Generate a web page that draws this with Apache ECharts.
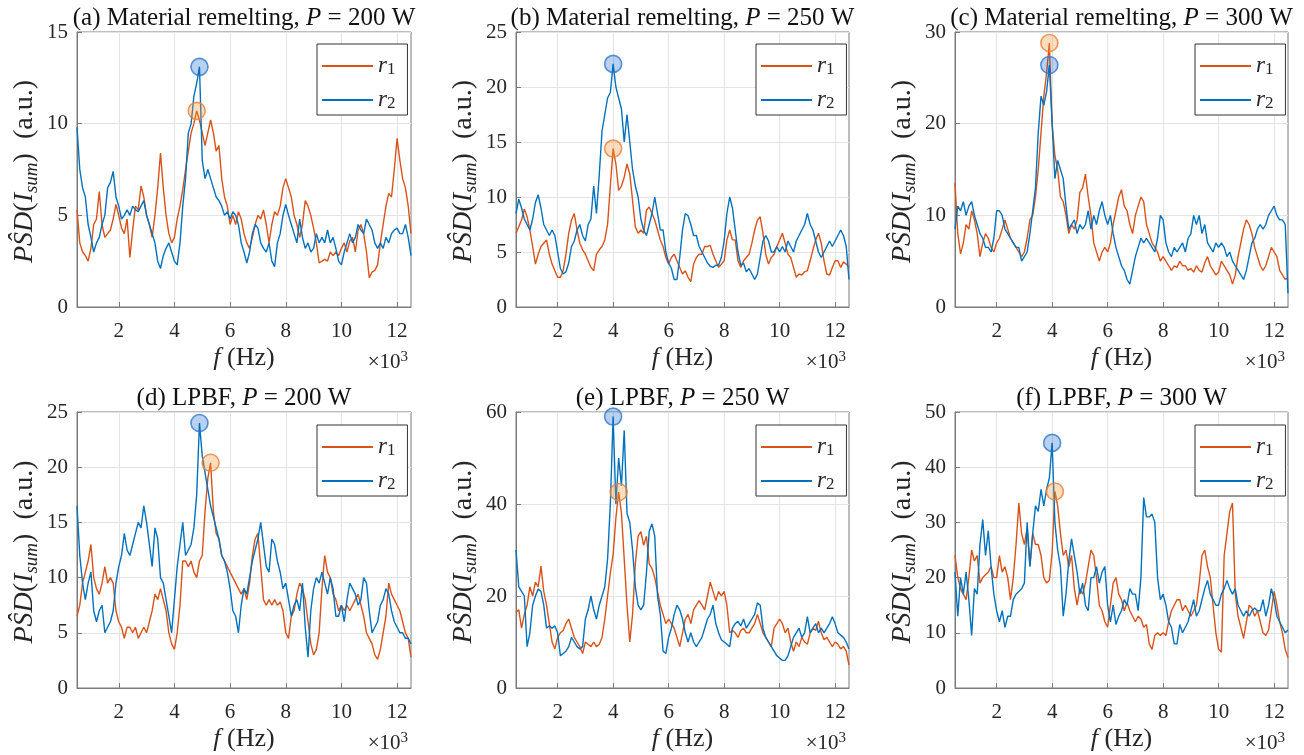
<!DOCTYPE html>
<html><head><meta charset="utf-8">
<script src="https://cdn.jsdelivr.net/npm/echarts@6/dist/echarts.min.js"></script>
<style>html,body{margin:0;padding:0;background:#fff}#c{width:1304px;height:755px}</style>
</head><body><div id="c"></div>
<script>
// ---------------- DATA ----------------
const freq = [
0.5,0.6,0.7,0.8,0.9,1.0,1.1,1.2,1.3,1.4,
1.5,1.6,1.7,1.8,1.9,2.0,2.1,2.2,2.3,2.4,
2.5,2.6,2.7,2.8,2.9,3.0,3.1,3.2,3.3,3.4,
3.5,3.6,3.7,3.8,3.9,4.0,4.1,4.2,4.3,4.4,
4.5,4.6,4.7,4.8,4.9,5.0,5.1,5.2,5.3,5.4,
5.5,5.6,5.7,5.8,5.9,6.0,6.1,6.2,6.3,6.4,
6.5,6.6,6.7,6.8,6.9,7.0,7.1,7.2,7.3,7.4,
7.5,7.6,7.7,7.8,7.9,8.0,8.1,8.2,8.3,8.4,
8.5,8.6,8.7,8.8,8.9,9.0,9.1,9.2,9.3,9.4,
9.5,9.6,9.7,9.8,9.9,10.0,10.1,10.2,10.3,10.4,
10.5,10.6,10.7,10.8,10.9,11.0,11.1,11.2,11.3,11.4,
11.5,11.6,11.7,11.8,11.9,12.0,12.1,12.2,12.3,12.4,
12.5];
const xTicks = [2, 4, 6, 8, 10, 12];

// (a) Material remelting, P = 200 W
const r1_a = [
5.3,3.5,3.0,2.8,2.5,3.2,4.5,4.8,6.3,4.5,
3.8,4.0,4.2,4.8,5.6,5.0,4.3,4.0,4.8,2.7,
4.2,5.5,5.3,6.6,6.0,5.0,4.5,3.8,5.0,6.5,
8.4,6.5,5.0,4.0,3.5,3.8,4.8,5.5,6.4,7.5,
8.5,9.5,10.0,10.7,10.2,9.5,8.8,9.5,10.2,9.5,
8.5,8.8,7.0,6.0,5.5,4.5,5.0,4.5,5.2,4.8,
4.0,3.5,3.2,3.8,4.5,5.0,4.8,5.3,4.5,3.5,
4.5,5.2,5.0,5.5,6.5,7.0,6.5,6.0,5.0,4.5,
3.8,4.5,5.8,5.5,5.0,4.3,3.5,2.4,2.5,2.6,
2.5,3.0,2.8,3.0,2.8,3.2,3.5,3.0,3.6,3.8,
3.0,4.2,4.5,4.0,3.0,1.6,1.9,2.0,2.3,3.5,
4.5,5.5,6.2,6.0,7.5,9.2,8.0,7.0,6.5,5.5,
4.0];
const r2_a = [
9.8,7.5,6.5,6.0,4.5,3.8,3.0,3.5,3.8,4.5,
5.0,6.5,6.8,7.4,6.0,5.5,4.8,5.0,5.3,5.0,
5.5,5.3,5.2,5.5,5.8,5.0,4.5,4.0,3.5,2.5,
2.1,2.8,3.2,3.5,3.0,2.5,2.3,3.5,5.5,7.0,
9.5,10.0,11.5,12.2,13.1,8.0,7.0,7.5,7.0,6.5,
6.0,5.8,5.5,5.0,5.2,4.8,5.2,5.0,4.5,3.5,
3.0,2.4,3.0,4.0,4.5,4.3,3.5,3.2,3.0,3.5,
2.5,2.2,3.5,4.0,5.0,5.6,5.0,4.5,4.0,3.5,
4.8,3.8,3.2,3.5,3.0,3.2,4.0,3.5,3.8,3.5,
4.2,3.5,3.8,3.2,2.5,2.3,3.0,3.5,4.0,3.5,
3.8,4.5,4.2,4.0,4.8,4.5,4.2,3.5,3.2,3.5,
3.2,3.8,3.5,4.0,4.2,4.3,4.0,4.0,4.5,3.8,
2.8];

// (b) Material remelting, P = 250 W
const r1_b = [
6.7,7.3,7.9,8.9,8.2,7.0,5.5,3.9,4.8,5.5,
5.8,6.1,4.8,3.9,3.3,2.7,2.7,3.3,4.8,6.7,
7.9,8.5,7.0,5.8,5.2,4.8,4.2,3.6,3.3,4.8,
5.2,5.5,6.1,7.5,11.0,14.4,13.0,10.6,11.0,11.8,
13.0,12.1,9.7,7.3,6.7,7.0,6.7,8.8,9.1,8.5,
7.9,7.0,6.1,5.5,4.5,3.9,4.5,4.8,4.2,3.6,
3.0,3.3,2.7,2.3,3.9,4.5,4.8,4.8,5.5,5.5,
5.6,4.8,4.2,3.6,3.9,4.2,6.1,7.0,6.1,6.1,
4.2,3.6,4.2,4.5,4.8,5.8,7.0,7.9,8.2,6.7,
4.8,3.9,4.5,4.8,5.5,6.1,6.7,5.8,4.8,4.5,
3.6,2.7,3.0,2.9,3.2,3.3,4.2,5.2,6.1,6.7,
5.8,4.2,3.0,2.9,3.6,4.2,4.2,3.6,4.1,3.9,
3.6];
const r2_b = [
8.5,9.8,9.0,8.0,7.5,7.0,8.0,9.5,10.2,9.0,
7.5,7.0,6.5,7.0,6.5,5.0,3.5,3.0,3.2,4.0,
5.5,6.0,7.0,7.5,6.5,6.0,7.5,8.0,11.0,8.5,
12.0,16.0,17.5,19.0,19.5,22.1,20.0,19.0,18.0,15.0,
17.5,15.0,12.5,11.0,10.0,8.0,7.0,6.5,7.5,8.5,
10.0,8.5,7.0,7.0,5.0,4.0,3.5,2.5,2.5,4.5,
7.0,8.5,8.3,7.5,6.5,6.5,5.5,5.0,4.5,4.0,
3.7,3.6,3.8,3.8,4.5,6.0,8.5,10.0,9.0,7.0,
5.0,3.8,4.0,3.2,3.5,3.0,2.5,3.0,4.5,6.0,
6.5,6.0,5.0,5.0,5.5,5.0,5.5,5.0,6.0,5.5,
5.0,6.0,6.5,7.0,7.5,8.5,7.5,7.0,6.0,5.0,
4.5,5.0,5.5,6.0,5.5,6.0,6.5,7.0,6.5,5.5,
2.5];

// (c) Material remelting, P = 300 W
const r1_c = [
13.5,8.0,5.8,7.0,9.0,8.5,10.5,9.5,8.0,5.5,
7.0,8.0,7.5,6.5,6.0,7.0,7.5,8.5,9.5,8.5,
7.5,7.0,6.5,6.0,5.5,6.0,7.5,9.5,10.0,12.0,
15.0,19.0,23.0,25.5,28.8,20.0,16.5,15.0,12.0,11.5,
10.0,8.0,9.0,8.5,9.5,12.5,13.0,14.5,12.0,10.0,
7.0,6.0,5.0,6.0,6.5,6.0,7.0,9.0,10.5,12.0,
12.8,11.0,10.5,9.0,8.0,10.0,11.0,12.0,11.5,9.0,
8.0,7.0,6.5,6.0,5.0,5.5,5.0,4.5,4.0,4.5,
4.3,5.0,4.5,4.5,4.0,4.2,3.8,4.5,4.0,3.8,
4.8,5.5,4.5,4.0,3.5,3.8,5.0,4.5,4.0,3.5,
2.5,3.5,5.5,7.0,8.5,9.5,9.0,8.0,6.5,5.5,
4.5,4.0,4.5,5.5,6.5,6.0,5.5,4.0,3.5,3.0,
3.2];
const r2_c = [
8.5,11.0,10.5,11.5,10.0,11.0,11.5,10.0,9.0,8.0,
7.5,6.5,6.5,6.0,7.5,10.5,10.5,10.0,8.5,8.0,
7.5,7.0,6.5,6.5,5.0,5.5,6.0,8.0,10.5,13.0,
19.0,23.0,22.0,23.5,26.4,20.0,14.0,16.0,15.0,14.0,
11.0,8.5,9.0,9.5,8.0,9.0,8.5,9.0,10.5,8.5,
10.0,9.0,10.5,11.5,10.0,9.0,10.0,8.0,6.5,5.5,
4.5,4.0,3.0,2.5,4.0,5.5,6.5,7.5,7.0,7.5,
7.0,6.5,6.0,7.5,10.0,9.5,7.0,6.0,5.5,6.5,
6.0,6.5,7.0,6.0,7.5,8.0,10.0,9.0,10.0,8.0,
9.0,7.0,6.5,6.0,7.0,6.5,7.0,6.5,5.5,6.0,
5.0,4.5,4.0,3.5,3.0,4.0,5.5,7.0,7.5,8.5,
9.0,8.5,9.0,10.0,10.5,11.0,10.0,9.5,9.5,9.0,
1.5];

// (d) LPBF, P = 200 W
const r1_d = [
6.5,7.5,9.5,10.5,11.5,13.0,10.0,9.0,8.5,9.5,
11.0,9.5,10.0,9.5,7.0,6.0,5.5,4.5,5.5,5.5,
5.0,5.5,4.5,5.0,5.5,5.0,6.0,7.0,8.5,8.0,
9.0,8.0,7.0,5.0,4.0,3.5,5.0,7.5,11.5,11.5,
11.0,11.5,10.5,10.0,11.5,12.0,16.0,19.0,20.4,16.0,
14.0,13.5,12.0,11.5,11.0,10.5,10.0,9.5,9.0,8.5,
9.0,8.0,9.5,12.0,13.5,14.0,11.0,8.0,7.5,8.0,
7.5,8.0,7.5,7.8,7.0,5.0,4.5,6.5,7.0,8.5,
9.5,9.0,8.0,6.0,4.0,3.0,3.5,5.0,9.0,12.0,
10.5,10.0,8.5,8.0,7.0,7.5,7.0,7.5,7.0,7.5,
8.0,8.5,7.5,6.5,5.0,4.5,4.0,3.0,2.6,3.5,
5.0,6.5,9.5,8.5,8.0,7.5,7.0,6.0,5.0,4.5,
2.8];
const r2_d = [
16.5,12.0,9.5,8.0,9.5,10.5,7.0,6.0,7.0,7.5,
5.0,5.5,6.0,7.0,9.5,11.0,12.0,14.0,12.5,12.0,
13.0,14.0,15.0,14.5,16.5,15.0,13.0,11.0,14.5,13.5,
10.0,9.5,8.0,6.5,5.0,8.0,11.0,13.0,15.0,12.0,
12.5,13.0,14.5,17.5,24.0,21.0,19.5,18.0,16.5,15.5,
14.5,13.5,12.0,11.5,10.5,9.0,7.0,6.5,5.0,7.5,
9.0,8.5,10.0,11.5,12.5,13.5,15.0,13.0,11.0,10.5,
13.5,13.0,11.5,10.5,9.0,9.5,8.0,6.5,7.5,8.0,
7.0,9.5,5.5,2.8,7.0,9.0,10.0,9.5,10.5,9.5,
8.5,10.0,9.0,6.5,6.5,7.5,6.0,8.0,9.5,9.0,
8.5,7.5,8.0,10.0,9.5,7.0,5.0,5.5,6.0,7.5,
8.0,9.0,8.5,7.0,6.0,5.5,5.0,5.0,4.5,4.5,
4.0];

// (e) LPBF, P = 250 W
const r1_e = [
16.5,17.0,13.0,16.0,18.0,22.0,20.0,23.0,22.0,26.5,
21.0,18.0,14.0,10.0,8.5,11.0,12.0,12.5,14.0,15.0,
13.0,11.0,10.0,9.0,7.5,10.0,9.5,9.0,10.0,9.0,
9.5,11.0,15.0,20.0,25.0,29.0,37.0,42.6,38.0,28.0,
18.0,10.0,16.0,27.0,33.0,34.0,31.0,33.0,27.0,26.0,
24.0,21.0,18.0,16.0,14.0,15.0,14.0,13.0,11.0,9.0,
12.0,15.0,16.0,14.0,17.0,18.0,19.0,18.0,17.0,20.0,
23.0,21.0,19.0,21.0,20.0,21.0,18.0,12.0,12.5,12.0,
11.0,12.5,13.0,12.0,12.0,13.0,14.0,16.0,14.0,12.0,
11.0,10.0,9.0,13.0,14.0,15.0,14.0,12.0,13.0,10.0,
8.0,10.0,9.0,11.0,10.0,9.5,12.0,13.0,12.5,14.5,
12.0,10.5,11.0,10.0,9.0,10.0,9.5,8.5,9.0,8.0,
5.0];
const r2_e = [
30.0,22.0,21.0,20.0,9.0,12.0,18.0,20.0,21.5,21.0,
18.0,13.0,13.5,13.0,13.5,12.0,7.0,7.5,8.0,9.0,
11.0,10.0,9.0,8.5,9.0,15.0,17.0,20.0,17.0,15.0,
18.0,20.0,22.0,28.0,40.0,59.0,40.0,50.0,44.0,56.0,
38.0,36.0,30.0,22.0,18.0,17.0,18.0,25.0,34.0,35.7,
33.0,20.0,16.0,8.0,7.5,11.0,13.0,16.0,18.0,17.0,
15.0,12.0,10.0,12.0,10.0,9.0,10.0,11.0,13.0,15.0,
16.0,18.0,14.0,12.0,10.5,10.0,9.5,9.0,13.0,14.0,
14.5,13.5,15.0,13.0,14.0,15.0,16.0,18.5,18.0,13.0,
11.0,10.0,9.0,8.0,7.0,6.5,6.0,6.0,7.0,9.0,
11.0,12.0,13.0,11.0,12.0,15.5,12.0,13.0,14.0,12.0,
13.0,12.0,13.0,14.0,15.5,14.0,12.0,11.5,11.0,10.0,
8.5];

// (f) LPBF, P = 300 W
const r1_f = [
24.0,20.0,18.0,17.0,16.0,20.0,25.0,23.0,24.0,19.0,
20.0,20.5,21.0,22.0,20.0,20.0,24.0,21.0,22.0,20.0,
16.0,20.0,26.0,33.5,28.0,26.0,29.0,22.0,28.0,26.0,
26.0,24.0,20.0,19.0,19.5,24.5,35.6,33.0,28.0,24.0,
25.0,22.0,24.0,18.0,15.0,18.0,17.0,19.0,22.0,25.0,
24.0,20.0,15.0,14.0,12.0,11.0,15.0,19.0,20.0,17.0,
16.0,14.0,15.5,14.0,13.0,12.0,13.0,12.5,11.0,11.5,
8.0,7.0,9.5,10.0,9.5,10.0,9.5,12.0,14.0,15.0,
16.0,16.0,14.0,15.0,14.0,13.0,14.0,15.0,19.0,24.0,
25.0,22.0,20.0,15.0,10.0,7.0,6.5,24.0,28.0,32.0,
33.5,17.0,13.0,11.0,9.0,12.0,15.0,14.5,13.0,14.0,
12.0,10.0,9.5,10.5,14.0,17.5,15.0,12.0,10.0,7.0,
5.5];
const r2_f = [
21.0,13.0,20.0,17.0,21.0,16.0,9.5,18.0,17.0,26.0,
30.5,24.0,28.5,22.0,17.0,14.0,12.0,14.0,11.0,13.0,
13.0,16.0,17.0,17.5,18.0,19.0,30.0,22.0,28.0,33.0,
32.0,36.0,33.0,36.0,38.0,44.4,30.0,25.0,22.0,13.0,
17.0,23.0,27.0,24.0,21.0,17.0,19.0,15.0,14.0,20.0,
20.0,22.0,19.0,21.0,22.0,15.0,12.0,15.0,11.5,13.0,
14.0,16.0,15.0,18.0,17.0,17.0,14.0,20.0,34.5,31.0,
31.0,31.5,30.0,20.0,16.0,17.0,15.0,12.0,11.0,8.0,
8.0,11.5,10.0,11.0,12.0,14.0,16.0,13.0,14.0,16.0,
18.0,19.5,17.0,16.0,15.0,15.0,17.0,18.0,19.5,18.0,
17.0,18.0,15.0,14.0,13.0,14.0,13.0,14.0,14.5,14.0,
14.0,16.0,13.0,15.0,18.0,16.0,13.0,12.0,11.0,10.0,
10.5];

// peak markers (frequency in kHz, PSD value), panels a..f
const peakFreqR1 = [4.8, 4.0, 3.9, 5.3, 4.2, 4.1];
const peakValR1  = [10.7, 14.4, 28.8, 20.4, 42.6, 35.6];
const peakFreqR2 = [4.9, 4.0, 3.9, 4.9, 4.0, 4.0];
const peakValR2  = [13.1, 22.1, 26.4, 24.0, 59.0, 44.4];

const panelLabels = ['(a) Material remelting', '(b) Material remelting', '(c) Material remelting',
                     '(d) LPBF', '(e) LPBF', '(f) LPBF'];
const panelPower = [200, 250, 300, 200, 250, 300];
const yMaxes = [15, 25, 30, 25, 60, 50];
const yIntervals = [5, 5, 10, 5, 20, 10];

// ---------------- LAYOUT / STYLE ----------------
const FONT = 'Liberation Serif';
const INK = '#262626';
const BOX = '#7a7a7a';
const GRIDC = '#e4e4e4';
const C1 = '#D95319', C2 = '#0072BD';
const gridLeft = [77, 516, 955];
const gridWidth = [334, 333, 333];
const gridTop = [32, 412];
const gridHeight = [275, 276];
const legendLeft = [317, 756, 1195];
const legendTop = [44, 425];

const R1 = [r1_a, r1_b, r1_c, r1_d, r1_e, r1_f];
const R2 = [r2_a, r2_b, r2_c, r2_d, r2_e, r2_f];

const chart = echarts.init(document.getElementById('c'), null, {renderer: 'canvas'});

const grids = [], xAxes = [], yAxes = [], series = [], titles = [], legends = [], graphics = [];

const yNameRich = {
  i: {fontFamily: FONT, fontStyle: 'italic', fontSize: 28, lineHeight: 30, color: INK, verticalAlign: 'top'},
  n: {fontFamily: FONT, fontSize: 28, lineHeight: 30, color: INK, verticalAlign: 'top'},
  s: {fontFamily: FONT, fontStyle: 'italic', fontSize: 19, lineHeight: 19, padding: [15, 0, 0, 0], color: INK, verticalAlign: 'bottom'}
};

for (let i = 0; i < 6; i++) {
  const row = Math.floor(i / 3), col = i % 3;
  const L = gridLeft[col], W = gridWidth[col], T = gridTop[row], GH = gridHeight[row];
  grids.push({left: L, top: T, width: W, height: GH, show: true, borderColor: BOX, borderWidth: 1,
              backgroundColor: '#fff', containLabel: false, outerBoundsMode: 'none'});
  xAxes.push({
    gridIndex: i, type: 'value', min: 0.5, max: 12.5,
    axisLine: {show: true, lineStyle: {color: BOX, width: 1}},
    axisTick: {show: true, inside: true, length: 5, customValues: xTicks, lineStyle: {color: BOX}},
    axisLabel: {customValues: xTicks, color: INK, fontFamily: FONT, fontSize: 21, margin: 14,
                formatter: v => String(v)},
    splitLine: {show: true, lineStyle: {color: GRIDC, width: 1}},
    name: '{i|f} (Hz)', nameLocation: 'middle', nameGap: 33,
    nameTextStyle: {fontFamily: FONT, fontSize: 26, color: INK, lineHeight: 30,
      rich: {i: {fontFamily: FONT, fontStyle: 'italic', fontSize: 26, color: INK, lineHeight: 30}}}
  });
  yAxes.push({
    gridIndex: i, type: 'value', min: 0, max: yMaxes[i], interval: yIntervals[i],
    axisLine: {show: true, lineStyle: {color: BOX, width: 1}},
    axisTick: {show: true, inside: true, length: 5, lineStyle: {color: BOX}},
    axisLabel: {color: INK, fontFamily: FONT, fontSize: 21, margin: 9},
    splitLine: {show: true, lineStyle: {color: GRIDC, width: 1}},
    name: '{i|P\u015CD}{n|(}{i|I}{s|sum}{n|)}  {n|(a.u.)}',
    nameLocation: 'middle', nameGap: 36, nameRotate: 90,
    nameTextStyle: {fontFamily: FONT, fontSize: 28, color: INK, padding: [0, 4, 0, 0], rich: yNameRich}
  });
  series.push({
    name: 'r1', type: 'line', xAxisIndex: i, yAxisIndex: i, symbol: 'none', showSymbol: false,
    data: freq.map((f, j) => [f, R1[i][j]]),
    lineStyle: {color: C1, width: 1.4}, itemStyle: {color: C1}, z: 2
  });
  series.push({
    name: 'r2', type: 'line', xAxisIndex: i, yAxisIndex: i, symbol: 'none', showSymbol: false,
    data: freq.map((f, j) => [f, R2[i][j]]),
    lineStyle: {color: C2, width: 1.4}, itemStyle: {color: C2}, z: 3
  });
  series.push({
    name: 'peak1', type: 'scatter', xAxisIndex: i, yAxisIndex: i, symbol: 'circle', symbolSize: 17,
    data: [[peakFreqR1[i], peakValR1[i]]],
    itemStyle: {color: 'rgba(245,150,50,0.40)', borderColor: '#E8803A', borderWidth: 1.6}, z: 5
  });
  series.push({
    name: 'peak2', type: 'scatter', xAxisIndex: i, yAxisIndex: i, symbol: 'circle', symbolSize: 17,
    data: [[peakFreqR2[i], peakValR2[i]]],
    itemStyle: {color: 'rgba(0,90,200,0.35)', borderColor: '#2F78C8', borderWidth: 1.6}, z: 5
  });
  titles.push({
    text: panelLabels[i] + ', {i|P} = ' + panelPower[i] + ' W',
    left: L + W / 2, top: row === 0 ? 3 : 383, textAlign: 'center', padding: 0,
    textStyle: {fontFamily: FONT, fontSize: 25, fontWeight: 'normal', color: '#111', lineHeight: 30,
      rich: {i: {fontFamily: FONT, fontStyle: 'italic', fontSize: 25, color: '#111', lineHeight: 30}}}
  });
  legends.push({
    orient: 'vertical', left: legendLeft[col], top: legendTop[row],
    data: ['r1', 'r2'], selectedMode: false, icon: 'rect',
    itemWidth: 51, itemHeight: 2, itemGap: 3, padding: [3, 12, 3, 5],
    borderColor: '#333', borderWidth: 1, backgroundColor: '#fff',
    formatter: n => n === 'r1' ? '{i|r}{s|1}' : '{i|r}{s|2}',
    textStyle: {fontFamily: FONT, color: INK,
      rich: {
        i: {fontFamily: FONT, fontStyle: 'italic', fontSize: 23, lineHeight: 24, color: INK, verticalAlign: 'top'},
        s: {fontFamily: FONT, fontSize: 17, lineHeight: 17, padding: [14, 0, 0, 0], color: INK, verticalAlign: 'bottom'}
      }}
  });
  graphics.push({
    type: 'text', x: L + W - 3, y: T + GH + 55,
    style: {text: '\u00D710{sup|3}', align: 'right', verticalAlign: 'middle',
      fontFamily: FONT, fontSize: 21, fill: INK, lineHeight: 24,
      rich: {sup: {fontFamily: FONT, fontSize: 15, lineHeight: 15, verticalAlign: 'top', fill: INK}}}
  });
}

chart.setOption({
  animation: false,
  backgroundColor: '#fff',
  title: titles,
  legend: legends,
  grid: grids,
  xAxis: xAxes,
  yAxis: yAxes,
  series: series,
  graphic: graphics
});
</script>
</body></html>
